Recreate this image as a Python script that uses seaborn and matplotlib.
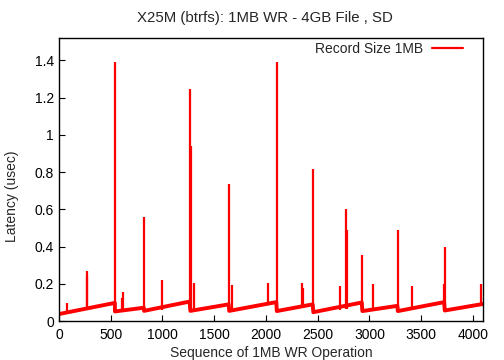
import numpy as np
import pandas as pd
import matplotlib
matplotlib.use('Agg')
import matplotlib.pyplot as plt
import seaborn as sns

# Sawtooth baseline vertices (operation index, latency)
base_x = [0, 540, 541, 820, 822, 1262, 1270, 1640, 1645, 2100,
          2105, 2452, 2458, 2926, 2932, 3270, 3275, 3722, 3728, 4096]
base_y = [0.038, 0.098, 0.052, 0.072, 0.055, 0.105, 0.055, 0.090, 0.055, 0.102,
          0.054, 0.090, 0.048, 0.100, 0.054, 0.082, 0.054, 0.102, 0.057, 0.092]

# Latency spikes (operation index, peak latency, foot latency)
spike_x = [77, 268, 272, 541, 605, 620, 821, 995, 1266, 1275, 1307,
           1643, 1668, 2016, 2103, 2352, 2355, 2457, 2715, 2770, 2780,
           2928, 3034, 3273, 3408, 3718, 3727, 4080]
spike_top = [0.100, 0.245, 0.267, 1.390, 0.126, 0.156, 0.557, 0.219, 1.245, 0.940, 0.203,
             0.735, 0.192, 0.203, 1.390, 0.203, 0.180, 0.815, 0.190, 0.600, 0.490,
             0.353, 0.197, 0.490, 0.190, 0.200, 0.400, 0.197]
spike_foot = [0.040, 0.060, 0.060, 0.060, 0.052, 0.052, 0.060, 0.060, 0.060, 0.060, 0.055,
              0.060, 0.055, 0.095, 0.060, 0.080, 0.080, 0.060, 0.060, 0.065, 0.065,
              0.060, 0.060, 0.060, 0.065, 0.100, 0.060, 0.090]

xlim = (0, 4096)
ylim = (0, 1.52)
yticks = [0, 0.2, 0.4, 0.6, 0.8, 1, 1.2, 1.4]
ytick_labels = ['0', '0.2', '0.4', '0.6', '0.8', '1', '1.2', '1.4']
xticks = [0, 500, 1000, 1500, 2000, 2500, 3000, 3500, 4000]

sns.set_theme(style='white')
plt.rcParams['font.family'] = ['Liberation Sans', 'DejaVu Sans']

red = '#ff0000'
df = pd.DataFrame({'op': base_x, 'lat': base_y})

fig = plt.figure(figsize=(5.04, 3.6), dpi=100)
ax = fig.add_axes([0.117, 0.108, 0.841, 0.786])

sns.lineplot(data=df, x='op', y='lat', ax=ax, color=red, lw=2.8,
             estimator=None, sort=False, legend=False)
ax.vlines(spike_x, spike_foot, spike_top, colors=red, lw=1.6)

# legend entry like gnuplot: text then line sample
ax.plot([], [], color=red, lw=1.6, label='Record Size 1MB')
ax.legend(loc='upper right', frameon=False, markerfirst=False, fontsize=10,
          handlelength=2.2, handletextpad=0.6, borderaxespad=0.3,
          bbox_to_anchor=(0.975, 1.02))

ax.set_xlim(*xlim)
ax.set_ylim(*ylim)
ax.set_xticks(xticks)
ax.set_yticks(yticks)
ax.set_yticklabels(ytick_labels)
ax.tick_params(direction='in', length=4, width=0.8, colors='black',
               labelsize=10, top=False, right=False, bottom=True, left=True)
ax.tick_params(axis='x', pad=5)
ax.tick_params(axis='y', pad=3.5)
for s in ax.spines.values():
    s.set_color('black')
    s.set_linewidth(1.0)

fig.text(264.5 / 504, 1 - 18.3 / 360, 'X25M (btrfs): 1MB WR - 4GB File , SD',
         fontsize=10.8, ha='center', va='center')
ax.set_xlabel('Sequence of 1MB WR Operation', fontsize=10)
ax.set_ylabel('Latency (usec)', fontsize=10)
ax.xaxis.set_label_coords(0.5, -0.087)
ax.yaxis.set_label_coords(-0.095, 0.44)

fig.savefig('out.png', dpi=100)
